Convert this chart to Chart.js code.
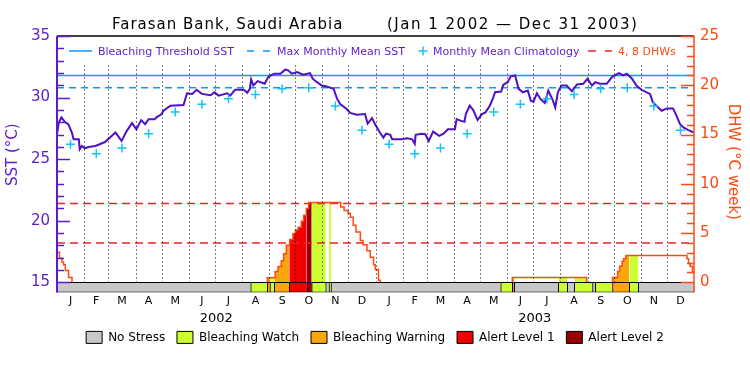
<!DOCTYPE html>
<html>
<head>
<meta charset="utf-8">
<script src="https://cdn.jsdelivr.net/npm/chart.js@4.4.1/dist/chart.umd.min.js"></script>
<style>
  html, body { margin: 0; padding: 0; background: #fff; }
  #wrap { width: 750px; height: 375px; }
</style>
</head>
<body>
<div id="wrap"><canvas id="dhwChart"></canvas></div>
<script>
// values, x is day since Jan 1 2002
const monthLetters = ['J', 'F', 'M', 'A', 'M', 'J', 'J', 'A', 'S', 'O', 'N', 'D'];
const monthStartDays = [0, 31, 59, 90, 120, 151, 181, 212, 243, 273, 304, 334];
const monthMidDays = [15.5, 45, 74.5, 105, 135.5, 166, 196.5, 227.5, 258, 288.5, 319, 349.5];
const years = ['2002', '2003'];
const yearMidDays = [182.5, 547.5];

const climatology = [26.2, 25.43, 25.9, 27.07, 28.83, 29.45, 29.9, 30.25, 30.71, 30.8, 29.32, 27.35];
const mmmSST = 30.8;
const thresholdSST = 31.8;
const dhwLevels = [4, 8];

const sstDays = [0, 2, 5, 9.5, 13, 17, 19, 25, 26, 28.5, 32, 36, 44, 55, 67, 74, 80, 86, 91, 96.5,
  101, 105, 112, 114, 120, 122, 130, 145, 149, 155, 160, 166, 176, 180.5, 185, 195, 198.5, 204, 214, 218,
  221, 222.5, 225, 230, 238, 242, 245, 249, 256, 261.5, 265, 269, 275, 282, 290, 293, 298, 303.5, 309, 317,
  321, 324.5, 332, 336, 343.5, 353, 356, 361, 364.5, 370, 374, 377, 382, 384, 395, 401, 407, 410, 411, 418,
  422, 426, 431, 438, 443, 448, 456, 458, 463, 467, 468.5, 473, 477, 482, 487, 491, 496, 500, 502, 509,
  511.5, 516.5, 520, 525, 529, 534, 539.5, 543, 546, 550, 554, 559, 563, 568, 571, 574, 578, 584, 590, 596,
  603, 608, 613, 617, 622, 630, 636, 644, 649, 653, 659, 664, 670, 679.5, 683, 689, 693, 699, 706, 710,
  714, 718, 723, 730];
const sstValues = [27.0, 27.95, 28.39, 27.98, 27.84, 27.16, 26.61, 26.61, 25.8, 26.07, 25.88, 25.98, 26.07, 26.39, 27.16, 26.48, 27.3, 27.93, 27.43, 28.17,
  27.84, 28.25, 28.25, 28.39, 28.66, 28.93, 29.34, 29.4, 30.35, 30.3, 30.63, 30.3, 30.19, 30.43, 30.16, 30.35, 30.16, 30.63, 30.63, 30.39,
  30.71, 31.48, 30.98, 31.34, 31.12, 31.66, 31.8, 31.94, 31.94, 32.27, 32.21, 31.94, 32.07, 31.86, 31.99, 31.53, 31.25, 30.98, 30.9, 30.71,
  29.89, 29.48, 29.07, 28.75, 28.61, 28.66, 27.89, 28.34, 27.84, 27.16, 26.75, 27.07, 26.97, 26.61, 26.61, 26.7, 26.61, 26.25, 26.97, 27.07,
  27.02, 26.48, 27.24, 26.89, 27.07, 27.43, 27.43, 28.25, 28.11, 28.03, 28.66, 29.34, 28.99, 28.17, 28.66, 28.8, 29.34, 30.02, 30.43, 30.49,
  31.04, 31.25, 31.72, 31.8, 30.71, 30.43, 30.57, 29.75, 29.67, 30.35, 29.89, 29.57, 30.57, 29.81, 29.2, 30.43, 30.98, 30.98, 30.52, 31.07,
  31.12, 31.53, 30.98, 31.25, 31.12, 31.12, 31.66, 31.99, 31.8, 31.94, 31.53, 30.98, 30.63, 30.3, 29.61, 29.2, 28.93, 29.12, 29.12, 28.52,
  27.84, 27.57, 27.38, 27.16];

// degree heating weeks, each value holds until the next day listed (null = no line)
const dhwDays = [0, 2.9, 5.7, 7.5, 9.5, 13.3, 17.2, 17.3,
  240.5, 241, 250, 253.3, 257, 259.7, 262.8, 266.6, 270.4, 273.3, 276.2, 280, 282.6, 285.7, 288.3,
  325.2, 329, 333.5, 336.1, 339.5, 342.6, 347.6, 350.7, 355.2, 359, 362.8, 364.7, 368.4, 370.4, 370.5,
  521.3, 521.8, 607, 607.1,
  636.1, 636.6, 642.4, 644.7, 647.5, 649.3, 652, 722, 723.8, 725.7, 728.3, 730];
const dhwValues = [3.05, 2.45, 2.05, 1.77, 1.2, 0.5, 0, null,
  0, 0.45, 1.1, 1.6, 2.2, 2.9, 3.75, 4.35, 4.95, 5.3, 5.6, 6.2, 6.8, 7.5, 8.1,
  7.65, 7.3, 7.0, 6.6, 5.8, 5.1, 4.25, 3.8, 3.2, 2.55, 1.77, 1.3, 0.2, 0, null,
  0, 0.5, 0, null,
  0, 0.5, 1.1, 1.64, 2.1, 2.4, 2.73, 2.4, 1.9, 1.6, 1.0, 1.0];

// stress level along the time bar: 0 none, 1 watch, 2 warning, 3 alert 1, 4 alert 2
const stressStart = [0, 222, 241, 244.1, 249, 266.2, 286.2, 291.9, 307.9, 311.7, 314, 508.5, 521.8, 524.1, 574.5, 584.8, 592.8, 613.7, 616.9, 636.6, 655.9, 666.2];
const stressEnd = [222, 241, 244.1, 249, 266.2, 286.2, 291.9, 307.9, 311.7, 314, 508.5, 521.8, 524.1, 574.5, 584.8, 592.8, 613.7, 616.9, 636.6, 655.9, 666.2, 730];
const stressLevel = [0, 1, 2, 1, 2, 3, 4, 1, 0, 1, 0, 1, 2, 0, 1, 0, 1, 0, 1, 2, 1, 0];
const stressNames = ['No Stress', 'Bleaching Watch', 'Bleaching Warning', 'Alert Level 1', 'Alert Level 2'];

const titleMain = 'Farasan Bank, Saudi Arabia';
const titleDates = '(Jan 1 2002 \u2014 Dec 31 2003)';

// styles
const FONT = '"DejaVu Sans", "Liberation Sans", sans-serif';
const purple = '#5c1ccc';
const sstColor = '#5010c4';
const blue = '#0a9cf5';
const cyan = '#18c2f2';
const orange = '#ff4a14';
const redDash = '#f02222';
const stressColors = ['#c8c8c8', '#ccff33', '#faa60c', '#f00000', '#960000'];

const allMonthMid = monthMidDays.concat(monthMidDays.map(d => d + 365));
const allMonthStart = monthStartDays.concat(monthStartDays.map(d => d + 365));

function dhwAt(day) {
  let v = 0;
  for (let i = 0; i < dhwDays.length; i++) {
    if (dhwDays[i] <= day) v = dhwValues[i] === null ? 0 : dhwValues[i];
  }
  return v;
}

// area under the DHW steps, only where the stress bar has this level
function fillPoints(level) {
  const pts = [];
  stressLevel.forEach((lv, s) => {
    if (lv !== level) return;
    const a = stressStart[s], b = stressEnd[s];
    pts.push({ x: a, y: dhwAt(a) });
    dhwDays.forEach((d, i) => {
      if (d > a && d < b) pts.push({ x: d, y: dhwValues[i] === null ? 0 : dhwValues[i] });
    });
    pts.push({ x: b, y: dhwAt(b - 0.01) });
    pts.push({ x: b, y: null });
  });
  return pts;
}

function tickLabel(v) {
  const y = yearMidDays.indexOf(v);
  if (y !== -1) return ['', years[y]];
  const m = allMonthMid.indexOf(v);
  return m === -1 ? '' : monthLetters[m % 12];
}

const datasets = [];

[1, 2, 3, 4].forEach(lv => {
  datasets.push({
    label: stressNames[lv],
    data: fillPoints(lv),
    yAxisID: 'dhw',
    stepped: true,
    fill: 'origin',
    backgroundColor: stressColors[lv],
    borderWidth: 0,
    pointRadius: 0,
    order: 20
  });
});

dhwLevels.forEach(v => {
  datasets.push({
    label: v + ' DHW',
    data: [{ x: 0, y: v }, { x: 730, y: v }],
    yAxisID: 'dhw',
    borderColor: redDash,
    borderWidth: 1.5,
    borderDash: [8, 5],
    pointRadius: 0,
    order: 15
  });
});

datasets.push({
  label: 'DHW',
  data: dhwDays.map((d, i) => ({ x: d, y: dhwValues[i] })),
  yAxisID: 'dhw',
  stepped: true,
  borderColor: orange,
  borderWidth: 1.5,
  pointRadius: 0,
  order: 12
});

datasets.push({
  type: 'bar',
  label: 'Stress',
  indexAxis: 'y',
  xAxisID: 'x',
  yAxisID: 'dhw',
  data: stressStart.map((a, i) => ({ x: [a, stressEnd[i]], y: -0.5125 })),
  backgroundColor: stressLevel.map(l => stressColors[l]),
  borderColor: '#000',
  borderWidth: { top: 1, bottom: 1, left: 1, right: 0 },
  borderSkipped: false,
  barThickness: 10,
  grouped: false,
  order: 10
});

datasets.push({
  label: 'Bleaching Threshold SST',
  data: [{ x: 0, y: thresholdSST }, { x: 730, y: thresholdSST }],
  yAxisID: 'sst',
  borderColor: blue,
  borderWidth: 1.5,
  pointRadius: 0,
  order: 6
});

datasets.push({
  label: 'Max Monthly Mean SST',
  data: [{ x: 0, y: mmmSST }, { x: 730, y: mmmSST }],
  yAxisID: 'sst',
  borderColor: blue,
  borderWidth: 1.5,
  borderDash: [7, 5],
  pointRadius: 0,
  order: 6
});

datasets.push({
  label: 'SST',
  data: sstDays.map((d, i) => ({ x: d, y: sstValues[i] })),
  yAxisID: 'sst',
  borderColor: sstColor,
  borderWidth: 2,
  pointRadius: 0,
  order: 4
});

datasets.push({
  label: 'Monthly Mean Climatology',
  data: allMonthMid.map((d, i) => ({ x: d, y: climatology[i % 12] })),
  yAxisID: 'sst',
  showLine: false,
  pointStyle: 'cross',
  pointRadius: 4.5,
  pointBorderWidth: 1.5,
  pointBorderColor: cyan,
  order: 2
});

// frame, inward ticks, dotted month lines, line legend and title
const decor = {
  id: 'decor',
  afterDatasetsDraw(chart) {
    const { ctx, chartArea: a, scales: { x, sst, dhw } } = chart;
    ctx.save();

    ctx.strokeStyle = '#000';
    ctx.lineWidth = 1;
    ctx.setLineDash([1, 3]);
    const yTop = sst.getPixelForValue(32.6);
    const yBot = dhw.getPixelForValue(0);
    allMonthStart.forEach(d => {
      if (d <= 0 || d >= 730) return;
      const px = Math.round(x.getPixelForValue(d)) + 0.5;
      ctx.beginPath();
      ctx.moveTo(px, yTop);
      ctx.lineTo(px, yBot);
      ctx.stroke();
    });
    ctx.setLineDash([]);

    ctx.lineWidth = 1.5;
    ctx.beginPath();
    ctx.moveTo(a.left, a.top);
    ctx.lineTo(a.right, a.top);
    ctx.stroke();

    ctx.strokeStyle = purple;
    ctx.lineWidth = 2;
    ctx.beginPath();
    ctx.moveTo(a.left, a.top);
    ctx.lineTo(a.left, a.bottom);
    ctx.stroke();
    ctx.lineWidth = 1.5;
    for (let v = 15; v <= 35; v++) {
      const py = Math.round(sst.getPixelForValue(v)) + 0.5;
      ctx.beginPath();
      ctx.moveTo(a.left, py);
      ctx.lineTo(a.left + (v % 5 ? 7 : 13), py);
      ctx.stroke();
    }

    ctx.strokeStyle = orange;
    ctx.lineWidth = 1.5;
    ctx.beginPath();
    ctx.moveTo(a.right, a.top);
    ctx.lineTo(a.right, a.bottom);
    ctx.stroke();
    for (let v = 0; v <= 25; v++) {
      const py = Math.round(dhw.getPixelForValue(v)) + 0.5;
      ctx.beginPath();
      ctx.moveTo(a.right, py);
      ctx.lineTo(a.right - (v % 5 ? 7 : 13), py);
      ctx.stroke();
    }

    // legend for the lines, inside the plot
    const ly = 51, tb = 55;
    ctx.font = '11px ' + FONT;
    ctx.textBaseline = 'alphabetic';
    ctx.strokeStyle = blue;
    ctx.beginPath(); ctx.moveTo(69, ly); ctx.lineTo(92, ly); ctx.stroke();
    ctx.fillStyle = purple;
    ctx.fillText('Bleaching Threshold SST', 98, tb);
    ctx.setLineDash([7, 9]);
    ctx.beginPath(); ctx.moveTo(247, ly); ctx.lineTo(270, ly); ctx.stroke();
    ctx.fillText('Max Monthly Mean SST', 277, tb);
    ctx.setLineDash([]);
    ctx.strokeStyle = cyan;
    ctx.beginPath();
    ctx.moveTo(418.5, ly); ctx.lineTo(427.5, ly);
    ctx.moveTo(423, ly - 4.5); ctx.lineTo(423, ly + 4.5);
    ctx.stroke();
    ctx.fillText('Monthly Mean Climatology', 433, tb);
    ctx.strokeStyle = redDash;
    ctx.setLineDash([8, 9]);
    ctx.beginPath(); ctx.moveTo(588, ly); ctx.lineTo(612, ly); ctx.stroke();
    ctx.setLineDash([]);
    ctx.fillStyle = orange;
    ctx.fillText('4, 8 DHWs', 618, tb);

    ctx.restore();
  },
  afterDraw(chart) {
    const ctx = chart.ctx;
    ctx.save();
    ctx.fillStyle = '#000';
    ctx.font = '15px ' + FONT;
    ctx.textBaseline = 'alphabetic';
    ctx.letterSpacing = '1px';
    ctx.fillText(titleMain, 112, 28.5);
    ctx.letterSpacing = '1.5px';
    ctx.fillText(titleDates, 387, 28.5);
    ctx.restore();
  }
};

const myChart = new Chart(document.getElementById('dhwChart').getContext('2d'), {
  type: 'line',
  data: { datasets: datasets },
  options: {
    responsive: true,
    maintainAspectRatio: false,
    animation: false,
    events: [],
    layout: { padding: { top: 36, bottom: 21.6, left: 0, right: 0 } },
    scales: {
      x: {
        type: 'linear',
        min: 0,
        max: 730,
        offset: false,
        beginAtZero: false,
        grid: { display: false, drawTicks: false },
        border: { display: false },
        afterBuildTicks: s => { s.ticks = allMonthMid.concat(yearMidDays).map(v => ({ value: v })); },
        afterFit: s => { s.height = 31; },
        ticks: {
          autoSkip: false,
          maxRotation: 0,
          padding: 2.5,
          color: '#000',
          font: c => (c.tick && yearMidDays.includes(c.tick.value)) ? { family: FONT, size: 13 } : { family: FONT, size: 11 },
          callback: v => tickLabel(v)
        }
      },
      sst: {
        type: 'linear',
        position: 'left',
        min: 14.18,
        max: 35,
        grid: { display: false, drawTicks: false },
        border: { display: false },
        afterBuildTicks: s => { s.ticks = [15, 20, 25, 30, 35].map(v => ({ value: v })); },
        afterFit: s => { s.width = 57; },
        ticks: { color: purple, font: { family: FONT, size: 15 }, padding: 7 },
        title: { display: true, text: '    SST (\u00b0C)', color: purple, font: { family: FONT, size: 15 }, padding: { top: 4, bottom: 0 } }
      },
      dhw: {
        type: 'linear',
        position: 'right',
        min: -1.0246,
        max: 25,
        offset: false,
        grid: { display: false, drawTicks: false, offset: false },
        border: { display: false },
        afterBuildTicks: s => { s.ticks = [0, 5, 10, 15, 20, 25].map(v => ({ value: v })); },
        afterFit: s => { s.width = 56; },
        ticks: { color: orange, font: { family: FONT, size: 15 }, padding: 6 },
        title: { display: true, text: 'DHW (\u00b0C week) ', color: orange, font: { family: FONT, size: 15 }, padding: { top: 8, bottom: 0 } }
      }
    },
    plugins: {
      legend: {
        position: 'bottom',
        labels: {
          boxWidth: 16,
          boxHeight: 12,
          padding: 8,
          color: '#000',
          font: { family: FONT, size: 12 },
          generateLabels: () => stressNames.map((n, i) => ({
            text: i < stressNames.length - 1 ? n + ' ' : n,
            fillStyle: stressColors[i],
            strokeStyle: '#000',
            lineWidth: 1,
            hidden: false,
            index: i
          }))
        }
      },
      tooltip: { enabled: false }
    }
  },
  plugins: [decor]
});
</script>
</body>
</html>
